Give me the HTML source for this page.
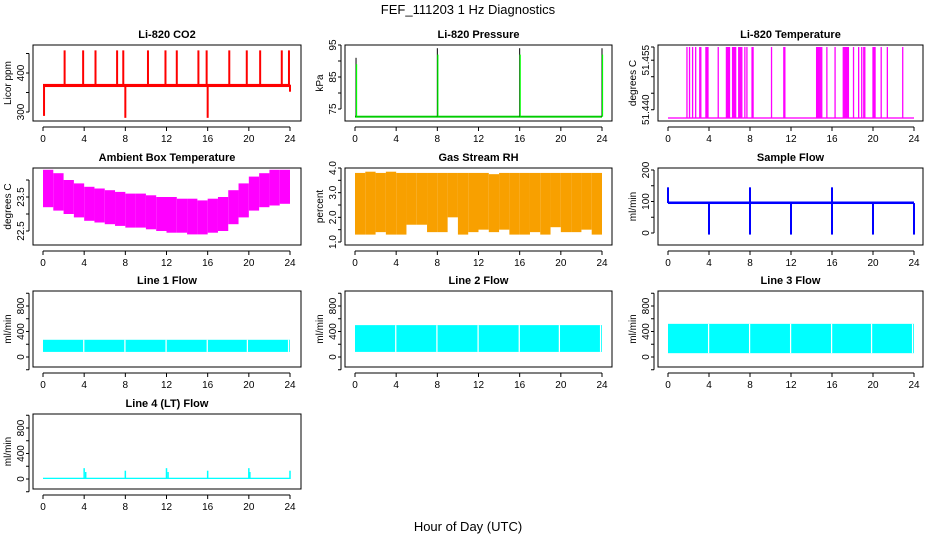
<!DOCTYPE html>
<html><head><meta charset="utf-8"><style>
body{margin:0;background:#fff;}
svg{display:block;font-family:"Liberation Sans",sans-serif;}
</style></head><body>
<svg id="c" width="936" height="540">
<text x="468" y="14" text-anchor="middle" font-size="13">FEF_111203  1 Hz Diagnostics</text>
<text x="468" y="531" text-anchor="middle" font-size="13">Hour of Day (UTC)</text>
</svg>
<script>
// ---- data ----
const hourTicks=[0,4,8,12,16,20,24];
const hours=[0,1,2,3,4,5,6,7,8,9,10,11,12,13,14,15,16,17,18,19,20,21,22,23,24];
const co2Base=[364,372];
const co2SpikeHours=[2.1,3.9,5.1,7.2,7.8,10.2,11.9,13.0,15.1,15.9,18.1,19.8,21.1,23.2,23.9];
const co2SpikeVals=[458,458,458,458,458,458,458,458,458,458,458,458,458,458,458];
const co2DipHours=[0.1,8.0,16.0,24.0];
const co2DipVals=[290,285,285,352];
const presBase=72.6;
const presSpikeHours=[0.1,8.0,16.0,24.0];
const presSpikeVals=[91,94,94,94];
const tempBase=51.4375;
const tempTop=51.459;
const tempSpikeHours=[1.85,2.1,2.4,2.7,3.1,3.2,3.7,3.8,3.9,4.9,5.7,5.8,5.9,6.0,6.3,6.4,6.5,6.6,6.9,7.0,7.1,7.2,7.5,7.7,8.2,8.3,10.1,11.3,11.4,14.5,14.6,14.7,14.8,14.9,15.0,15.5,16.3,17.1,17.2,17.3,17.4,17.5,17.6,18.1,18.6,18.9,19.1,19.2,20.0,20.1,20.2,20.8,21.4,22.9];
const ambHi=[24.3,24.2,24.0,23.9,23.8,23.75,23.7,23.65,23.6,23.6,23.55,23.5,23.5,23.45,23.45,23.4,23.45,23.5,23.7,23.9,24.1,24.2,24.3,24.3,24.3];
const ambLo=[23.2,23.1,23.0,22.9,22.8,22.75,22.7,22.65,22.6,22.6,22.55,22.5,22.45,22.45,22.4,22.4,22.45,22.5,22.7,22.9,23.1,23.2,23.25,23.3,23.3];
const rhHi=[3.8,3.85,3.8,3.85,3.8,3.8,3.8,3.8,3.8,3.8,3.8,3.8,3.8,3.75,3.8,3.8,3.8,3.8,3.8,3.8,3.8,3.8,3.8,3.8,3.8];
const rhLo=[1.3,1.3,1.4,1.3,1.3,1.7,1.7,1.4,1.4,2.0,1.3,1.4,1.5,1.4,1.5,1.3,1.3,1.4,1.3,1.6,1.4,1.4,1.5,1.3,1.3];
const sfBase=[92,100];
const sfDipHours=[4,8,12,16,20,24];
const sfDipVals=[-5,-5,-5,-5,-5,-5];
const sfSpikeHours=[0,8,16];
const sfSpikeVals=[145,145,145];
const l1Band=[80,270];
const l2Band=[80,500];
const l3Band=[60,520];
const gapHours=[3.9,7.9,11.9,15.9,19.8,23.8];
const l4Base=[0,20];
const l4SpikeHours=[4,4.15,8,12,12.15,16,20,20.1,24];
const l4SpikeVals=[170,110,130,170,110,130,170,110,130];

// ---- drawing ----
const svg=document.getElementById('c');
const NS='http://www.w3.org/2000/svg';
function el(t,a,p){const e=document.createElementNS(NS,t);for(const k in a)e.setAttribute(k,a[k]);(p||svg).appendChild(e);return e;}
const cols=[{l:33,r:301,x0:43,x1:290},{l:345,r:612,x0:355,x1:602},{l:658,r:923,x0:668,x1:914}];
const rows=[{t:45,b:121},{t:168,b:245},{t:291,b:367},{t:414,b:489}];
function panel(name,title,ytitle,c,r,yv0,yp0,yv1,yp1,yticks,ylabels){
  const C=cols[c],R=rows[r];
  const g=el('g',{});
  
  
  const P={g,x:h=>C.x0+(C.x1-C.x0)*h/24,y:v=>yp0+(yp1-yp0)*(v-yv0)/(yv1-yv0),C,R};
  const t=el('text',{x:(C.l+C.r)/2,y:R.t-7,'text-anchor':'middle','font-size':11,'font-weight':'bold'},g);t.textContent=title;
  
  
  const yt=el('text',{transform:`translate(${C.l-22},${(R.t+R.b)/2}) rotate(-90)`,'text-anchor':'middle','font-size':10},g);yt.textContent=ytitle;
  
  
  el('line',{x1:C.l-4,x2:C.l-4,y1:P.y(yticks[0]),y2:P.y(yticks[yticks.length-1]),stroke:'#000'},g);
  yticks.forEach((v,i)=>{const y=P.y(v);el('line',{x1:C.l-7,x2:C.l-4,y1:y,y2:y,stroke:'#000'},g);
    if(ylabels[i]){const tx=el('text',{transform:`translate(${C.l-9},${y}) rotate(-90)`,'text-anchor':'middle','font-size':10},g);tx.textContent=ylabels[i];
    
    }});
  el('line',{x1:P.x(0),x2:P.x(24),y1:R.b+6,y2:R.b+6,stroke:'#000'},g);
  hourTicks.forEach(h=>{const x=P.x(h);el('line',{x1:x,x2:x,y1:R.b+6,y2:R.b+10,stroke:'#000'},g);
    const tx=el('text',{x:x,y:R.b+21,'text-anchor':'middle','font-size':10},g);tx.textContent=h;
    
    });
  P.frame=()=>el('rect',{x:C.l,y:R.t,width:C.r-C.l,height:R.b-R.t,fill:'none',stroke:'#000'},g);
  return P;
}
function vline(P,h,v0,v1,col,w){el('line',{x1:P.x(h),x2:P.x(h),y1:P.y(v0),y2:P.y(v1),stroke:col,'stroke-width':w||1.5},P.g);}
function band(P,h0,h1,lo,hi,fill){el('rect',{x:P.x(h0),y:P.y(hi),width:P.x(h1)-P.x(h0),height:P.y(lo)-P.y(hi),fill:fill},P.g);}

// CO2
let P=panel('panel-co2','Li-820 CO2','Licor ppm',0,0,300,112,400,73,[300,350,400,450],['300','','400','']);
band(P,0,24,co2Base[0],co2Base[1],'#f00');
co2SpikeHours.forEach((h,i)=>vline(P,h,370,co2SpikeVals[i],'#f00',2));
co2DipHours.forEach((h,i)=>vline(P,h,370,co2DipVals[i],'#f00',2));
P.frame();
// Pressure
P=panel('panel-pressure','Li-820 Pressure','kPa',1,0,75,109,95,45,[75,80,85,90,95],['75','','85','','95']);
band(P,0,24,presBase-0.3,presBase+0.3,'#0c0');
presSpikeHours.forEach((h,i)=>{vline(P,h,presBase,presSpikeVals[i],'#000',1);vline(P,h+0.05,presBase,presSpikeVals[i]-2,'#0f0',1.2);});
P.frame();
// Temperature
P=panel('panel-li820-temp','Li-820 Temperature','degrees C',2,0,51.4375,118,51.459,47,[51.44,51.445,51.45,51.455,51.459],['51.440','','','51.455','']);
band(P,0,24,tempBase-0.0002,tempBase+0.0002,'#f0f');
tempSpikeHours.forEach(h=>vline(P,h,tempBase,tempTop,'#f0f',1.3));
P.frame();
// Ambient
P=panel('panel-ambient-temp','Ambient Box Temperature','degrees C',0,1,22.5,231,23.5,197,[22.5,23,23.5,24],['22.5','','23.5','']);
for(let i=0;i<hours.length-1;i++)band(P,hours[i],hours[i+1],ambLo[i],ambHi[i],'#f0f');
P.frame();
// RH
P=panel('panel-rh','Gas Stream RH','percent',1,1,1,242,4,168,[1,1.5,2,2.5,3,3.5,4],['1.0','','2.0','','3.0','','4.0']);
for(let i=0;i<hours.length-1;i++)band(P,hours[i],hours[i+1],rhLo[i],rhHi[i],'#f8a000');
P.frame();
// Sample flow
P=panel('panel-sample-flow','Sample Flow','ml/min',2,1,0,233,200,170,[0,50,100,150,200],['0','','100','','200']);
band(P,0,24,sfBase[0],sfBase[1],'#00f');
sfDipHours.forEach((h,i)=>vline(P,h,95,sfDipVals[i],'#00f',2));
sfSpikeHours.forEach((h,i)=>vline(P,h,95,sfSpikeVals[i],'#00f',2));
P.frame();
// Line flows
function flow(name,title,c,r,bnd){
  const p=panel(name,title,'ml/min',c,r,0,rows[r].b-10,800,rows[r].b-61,[-200,0,200,400,600,800,1000],['','0','','400','','800','']);
  band(p,0,24,bnd[0],bnd[1],'#0ff');
  gapHours.forEach(h=>band(p,h,h+0.12,bnd[0],bnd[1],'#fff'));
  p.frame();return p;}
flow('panel-line1-flow','Line 1 Flow',0,2,l1Band);
flow('panel-line2-flow','Line 2 Flow',1,2,l2Band);
flow('panel-line3-flow','Line 3 Flow',2,2,l3Band);
P=panel('panel-line4-flow','Line 4 (LT) Flow','ml/min',0,3,0,479,800,428,[-200,0,200,400,600,800,1000],['','0','','400','','800','']);
band(P,0,24,l4Base[0],l4Base[1],'#0ff');
l4SpikeHours.forEach((h,i)=>vline(P,h,0,l4SpikeVals[i],'#0ff',1.5));
P.frame();
</script>
</body></html>
